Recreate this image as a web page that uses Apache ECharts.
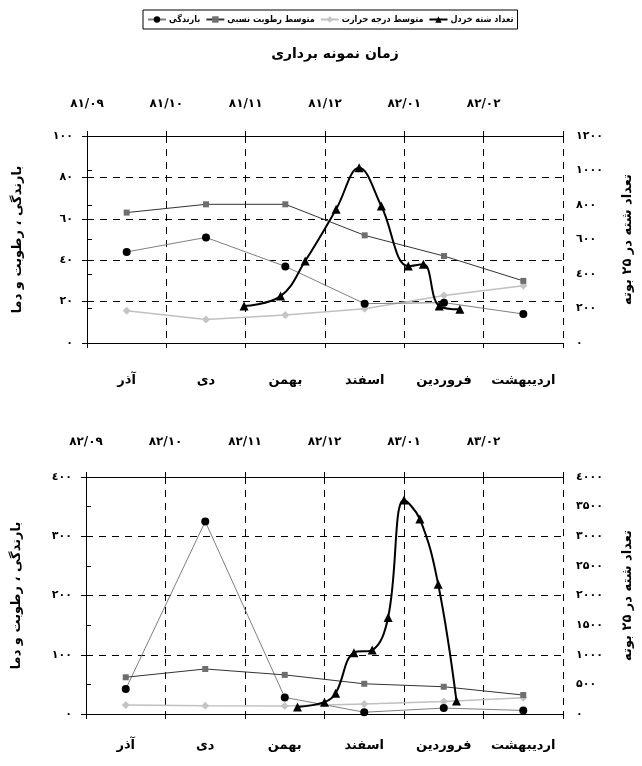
<!DOCTYPE html>
<html>
<head>
<meta charset="utf-8">
<script src="https://cdn.jsdelivr.net/npm/echarts@6/dist/echarts.min.js"></script>
<style>html,body{margin:0;padding:0;background:#fff}#c{width:642px;height:766px}</style>
</head>
<body>
<div id="c"></div>
<script>
// ---- data ----
const months = ['آذر', 'دی', 'بهمن', 'اسفند', 'فروردین', 'اردیبهشت'];
const dates1 = ['۸۱/۰۹', '۸۱/۱۰', '۸۱/۱۱', '۸۱/۱۲', '۸۲/۰۱', '۸۲/۰۲'];
const dates2 = ['۸۲/۰۹', '۸۲/۱۰', '۸۲/۱۱', '۸۲/۱۲', '۸۳/۰۱', '۸۳/۰۲'];

const seriesNames = ['بارندگی', 'متوسط رطوبت نسبی', 'متوسط درجه حرارت', 'تعداد شته خردل'];

// chart 1 (1381-82)
const rain1 = [44, 51, 37, 19, 19.5, 14];
const hum1 = [63, 67, 67, 52, 42, 30];
const temp1 = [15.6, 11.4, 13.5, 16.6, 22.9, 27.7];
const aphidT1 = [1.98, 2.44, 2.75, 3.14, 3.43, 3.71, 4.05, 4.24, 4.44, 4.70];
const aphid1 = [215, 272, 475, 775, 1016, 794, 446, 456, 214, 195];

// chart 2 (1382-83)
const rain2 = [42, 325, 28, 3, 10, 6];
const hum2 = [62, 76, 66, 51, 46, 32];
const temp2 = [15, 14, 13.5, 17, 21, 27.5];
const aphidT2 = [2.66, 3.00, 3.14, 3.37, 3.60, 3.80, 4.00, 4.20, 4.43, 4.66];
const aphid2 = [120, 200, 350, 1035, 1080, 1630, 3610, 3290, 2190, 220];

const leftName = 'بارندگی ، رطوبت و دما';
const rightName = 'تعداد شته در ۲۵ بوته';
const titleText = 'زمان نمونه برداری';

// ---- helpers ----
const digitMap = {'0':'۰','1':'۱','2':'۲','3':'۳','4':'٤','5':'۵','6':'٦','7':'۷','8':'۸','9':'۹'};
const fa = v => String(v).replace(/[0-9]/g, d => digitMap[d]);
const FONT = 'DejaVu Sans';
const FONT_C = '"DejaVu Sans Condensed", "DejaVu Sans"';

const grids = [
  {left: 87, right: 72, top: 136, height: 207},
  {left: 86, right: 76, top: 477, height: 237}
];
const cfg = [
  {dates: dates1, leftMax: 100, leftInt: 20, rightMax: 1200, rightInt: 200, monthMargin: 31, dateMargin: 26,
   rain: rain1, hum: hum1, temp: temp1, aT: aphidT1, a: aphid1},
  {dates: dates2, leftMax: 400, leftInt: 100, rightMax: 4000, rightInt: 500, monthMargin: 25, dateMargin: 29,
   rain: rain2, hum: hum2, temp: temp2, aT: aphidT2, a: aphid2}
];

const black = '#000';
const dash = [7, 6];
const xAxis = [], yAxis = [], series = [];

cfg.forEach((c, g) => {
  xAxis.push({
    gridIndex: g, type: 'value', min: 0, max: 6, interval: 1, position: 'bottom',
    axisLine: {show: true, lineStyle: {color: black, width: 1}},
    axisTick: {show: true, length: 5, lineStyle: {color: black}},
    axisLabel: {show: false},
    splitLine: {show: true, lineStyle: {color: black, type: dash, width: 1}}
  });
  xAxis.push({
    gridIndex: g, type: 'category', data: months, boundaryGap: true, position: 'bottom',
    axisLine: {show: false}, axisTick: {show: false}, splitLine: {show: false},
    axisLabel: {interval: 0, margin: c.monthMargin, fontWeight: 'bold', fontSize: 13, color: black, fontFamily: FONT}
  });
  xAxis.push({
    gridIndex: g, type: 'value', min: 0, max: 6, interval: 1, position: 'top',
    axisLine: {show: true, lineStyle: {color: black, width: 1}},
    axisTick: {show: true, length: 5, lineStyle: {color: black}},
    splitLine: {show: false},
    axisLabel: {margin: c.dateMargin, fontWeight: 'bold', fontSize: 12, color: black, fontFamily: FONT,
      formatter: v => c.dates[v] || ''}
  });
  yAxis.push({
    gridIndex: g, type: 'value', min: 0, max: c.leftMax, interval: c.leftInt, position: 'left',
    axisLine: {show: true, lineStyle: {color: black, width: 1}},
    axisTick: {show: true, length: 5, lineStyle: {color: black}},
    axisLabel: {margin: 14, fontWeight: 'bold', fontSize: 11, color: black, fontFamily: FONT, formatter: v => fa(v)},
    splitLine: {show: true, lineStyle: {color: black, type: dash, width: 1}},
    name: leftName, nameLocation: 'middle', nameRotate: 90, nameGap: 63,
    nameTextStyle: {fontWeight: 'bold', fontSize: 13, color: black, fontFamily: FONT}
  });
  yAxis.push({
    gridIndex: g, type: 'value', min: 0, max: c.rightMax, interval: c.rightInt, position: 'right',
    axisLine: {show: true, lineStyle: {color: black, width: 1}},
    axisTick: {show: true, length: 5, lineStyle: {color: black}},
    axisLabel: {margin: 13, fontWeight: 'bold', fontSize: 11, color: black, fontFamily: FONT, formatter: v => fa(v)},
    splitLine: {show: false},
    name: rightName, nameLocation: 'middle', nameRotate: 90, nameGap: 58,
    nameTextStyle: {fontWeight: 'bold', fontSize: 13, color: black, fontFamily: FONT}
  });

  series.push({
    name: seriesNames[0], type: 'line', xAxisIndex: 3 * g + 1, yAxisIndex: 2 * g, data: c.rain,
    symbol: 'circle', symbolSize: 8, lineStyle: {color: '#7f7f7f', width: 1}, itemStyle: {color: black}, z: 3
  });
  series.push({
    name: seriesNames[1], type: 'line', xAxisIndex: 3 * g + 1, yAxisIndex: 2 * g, data: c.hum,
    symbol: 'rect', symbolSize: 6, lineStyle: {color: '#333', width: 1}, itemStyle: {color: '#6e6e6e'}, z: 3
  });
  series.push({
    name: seriesNames[2], type: 'line', xAxisIndex: 3 * g + 1, yAxisIndex: 2 * g, data: c.temp,
    symbol: 'diamond', symbolSize: 8, lineStyle: {color: '#c0c0c0', width: 1.5}, itemStyle: {color: '#c4c4c4'}, z: 2
  });
  series.push({
    name: seriesNames[3], type: 'line', xAxisIndex: 3 * g, yAxisIndex: 2 * g + 1,
    data: c.aT.map((t, i) => [t, c.a[i]]),
    symbol: 'triangle', symbolSize: 9, smooth: 0.4, lineStyle: {color: black, width: 2}, itemStyle: {color: black}, z: 4
  });
});

const chart = echarts.init(document.getElementById('c'), null, {renderer: 'canvas'});
chart.setOption({
  animation: false,
  backgroundColor: '#fff',
  textStyle: {fontFamily: FONT},
  title: {
    text: titleText, left: 330, top: 42, textAlign: 'center',
    textStyle: {fontWeight: 'bold', fontSize: 14, color: black, fontFamily: FONT}
  },
  legend: {
    data: seriesNames, left: 143, top: 10, padding: [5, 4], itemGap: 5,
    itemWidth: 18, itemHeight: 8, borderColor: black, borderWidth: 1,
    textStyle: {fontWeight: 'bold', fontSize: 9, color: black, fontFamily: FONT_C, padding: [0, 0, 0, -2]},
    selectedMode: false
  },
  grid: grids,
  xAxis, yAxis, series
});
</script>
</body>
</html>
